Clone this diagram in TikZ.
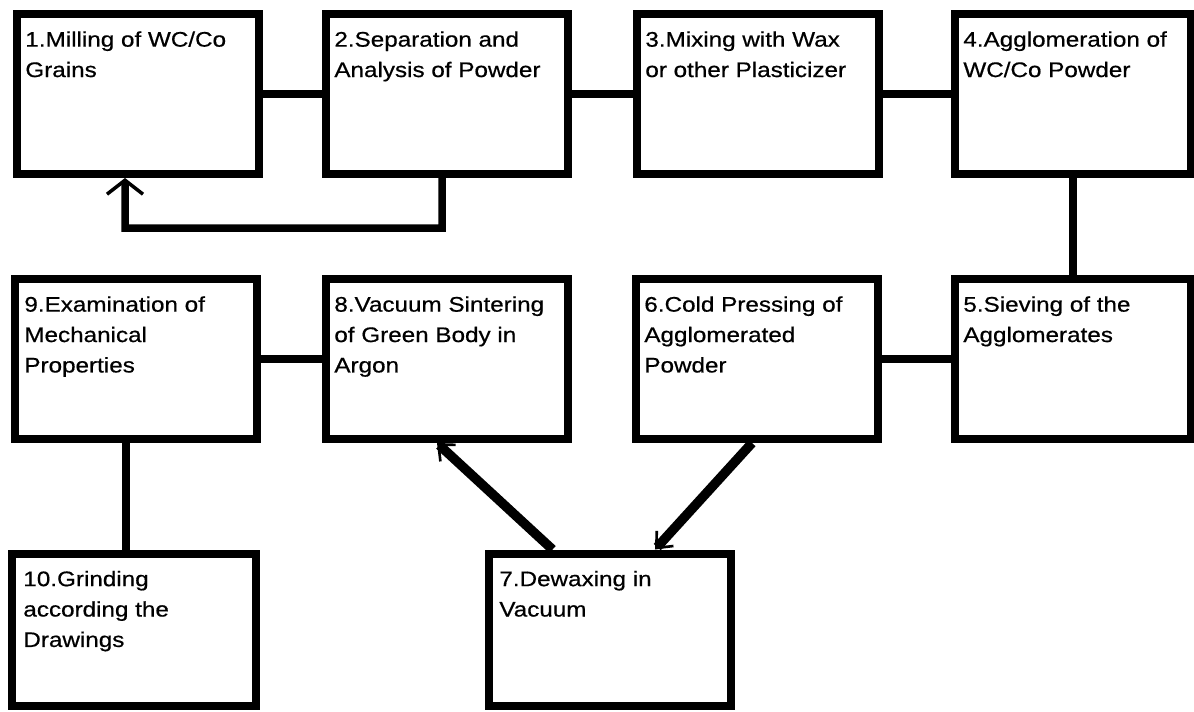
\documentclass[tikz,border=0pt]{standalone}
\usepackage{fontspec}
\setmainfont{Liberation Sans}[FakeStretch=1.15, FakeBold=0.6]
\usetikzlibrary{positioning}
\usetikzlibrary{arrows.meta}

\begin{document}
\begin{tikzpicture}[x=0.02cm, y=-0.02cm,
        stage/.style={rectangle, draw=black, line width=0.16cm, minimum width=4.84cm, minimum height=3.2cm, inner sep=0pt},
        words/.style={inner sep=0pt, align=left, font=\fontsize{12pt}{17.3pt}\selectfont},
        link/.style={line width=0.16cm},
        feedback/.style={line width=0.15cm, -{Straight Barb[length=0.28cm, width=0.72cm, line width=2pt]}},
        pushed/.style={line width=0.19cm, -{Straight Barb[length=0.26cm, width=0.45cm, line width=1.5pt]}}
      ]
        \useasboundingbox (0,0) rectangle (1194,711);

        \node[stage]  (mill)   at (138,94)                               {};
        \node[stage]  (sep)    at (447,94)                               {};
        \node[stage]  (mix)    at (758,94)                               {};
        \node[stage]  (aggl)   at (1073,94)   [minimum width=4.72cm]     {};
        \node[stage]  (sieve)  at (1073,359)  [minimum width=4.72cm]     {};
        \node[stage]  (press)  at (757,359)                              {};
        \node[stage]  (vac)    at (447,359)                              {};
        \node[stage]  (exam)   at (136,359)                              {};
        \node[stage]  (dewax)  at (610,630)   [minimum height=3.06cm]    {};
        \node[stage]  (grind)  at (134,630)   [minimum height=3.06cm, minimum width=4.88cm] {};

        \node[words, below right=0.42cm and 0.24cm of mill.north west]   (milltxt)  {1.Milling of WC/Co\\Grains};
        \node[words, below right=0.42cm and 0.24cm of sep.north west]    (septxt)   {2.Separation and\\Analysis of Powder};
        \node[words, below right=0.42cm and 0.24cm of mix.north west]    (mixtxt)   {3.Mixing with Wax\\or other Plasticizer};
        \node[words, below right=0.42cm and 0.24cm of aggl.north west]   (aggltxt)  {4.Agglomeration of\\WC/Co Powder};
        \node[words, below right=0.42cm and 0.24cm of sieve.north west]  (sievetxt) {5.Sieving of the\\Agglomerates};
        \node[words, below right=0.42cm and 0.24cm of press.north west]  (presstxt) {6.Cold Pressing of\\Agglomerated\\Powder};
        \node[words, below right=0.42cm and 0.28cm of dewax.north west]  (dewaxtxt) {7.Dewaxing in\\Vacuum};
        \node[words, below right=0.42cm and 0.24cm of vac.north west]    (vactxt)   {8.Vacuum Sintering\\of Green Body in\\Argon};
        \node[words, below right=0.42cm and 0.26cm of exam.north west]   (examtxt)  {9.Examination of\\Mechanical\\Properties};
        \node[words, below right=0.42cm and 0.30cm of grind.north west]  (grindtxt) {10.Grinding\\according the\\Drawings};

        \draw[link]  (mill.east) -- (sep.west);
        \draw[link]  (sep.east) -- (mix.west);
        \draw[link]  (mix.east) -- (aggl.west);
        \draw[link]  (aggl.south) -- (sieve.north);
        \draw[link]  (sieve.west) -- (press.east);
        \draw[link]  (vac.west) -- (exam.east);
        \draw[link]  ([xshift=-0.2cm]exam.south) -- ([xshift=-0.2cm]exam.south |- grind.north);

        \coordinate (loop) at (125,228);
        \draw[feedback]  ([xshift=-0.1cm]sep.south) |- (loop) -- ([xshift=-0.26cm]mill.south);
        \draw[pushed]  ([xshift=-0.1cm]press.south) -- ([xshift=0.9cm]dewax.north);
        \draw[pushed]  ([xshift=-1.15cm]dewax.north) -- ([xshift=-0.2cm]vac.south);
      \end{tikzpicture}
\end{document}
